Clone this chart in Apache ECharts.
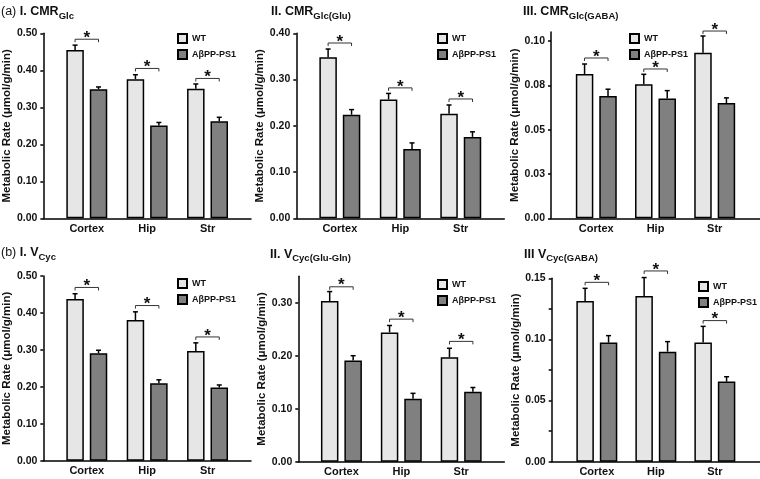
<!DOCTYPE html>
<html><head><meta charset="utf-8">
<script src="https://cdn.jsdelivr.net/npm/echarts@6/dist/echarts.min.js"></script>
<style>html,body{margin:0;padding:0;background:#fff}#c{width:760px;height:479px}</style>
</head><body><div id="c"></div>
<script>
// ---------- DATA ----------
const categories = ['Cortex', 'Hip', 'Str'];
const groups = ['WT', 'AβPP-PS1'];
const yAxisName = 'Metabolic Rate (μmol/g/min)';

// (a) I. CMR_Glc
const aI_title = '{n|(a) }{b|I. CMR}{s|Glc}';
const aI_WT = [0.455, 0.376, 0.350];
const aI_WT_err = [0.013, 0.012, 0.013];
const aI_TG = [0.349, 0.251, 0.262];
const aI_TG_err = [0.006, 0.008, 0.011];
const aI_sig = [0.484, 0.405, 0.378];
const aI_max = 0.5;
const aI_labelTicks = [0, 0.1, 0.2, 0.3, 0.4, 0.5];
const aI_tickLabels = ['0.00', '0.10', '0.20', '0.30', '0.40', '0.50'];
const aI_ticks = [0, 0.1, 0.2, 0.3, 0.4, 0.5];

// (a) II. CMR_Glc(Glu)
const aII_title = '{b|II. CMR}{s|Glc(Glu)}';
const aII_WT = [0.348, 0.257, 0.226];
const aII_WT_err = [0.018, 0.013, 0.019];
const aII_TG = [0.224, 0.150, 0.176];
const aII_TG_err = [0.011, 0.013, 0.011];
const aII_sig = [0.379, 0.282, 0.258];
const aII_max = 0.4;
const aII_labelTicks = [0, 0.1, 0.2, 0.3, 0.4];
const aII_tickLabels = ['0.00', '0.10', '0.20', '0.30', '0.40'];
const aII_ticks = [0, 0.1, 0.2, 0.3, 0.4];

// (a) III. CMR_Glc(GABA)
const aIII_title = '{b|III. CMR}{s|Glc(GABA)}';
const aIII_WT = [0.0814, 0.0756, 0.0934];
const aIII_WT_err = [0.0056, 0.0056, 0.0094];
const aIII_TG = [0.0690, 0.0675, 0.0650];
const aIII_TG_err = [0.0038, 0.0045, 0.0029];
const aIII_sig = [0.0904, 0.0842, 0.1056];
const aIII_max = 0.105;
const aIII_labelTicks = [0, 0.025, 0.05, 0.075, 0.1];
const aIII_tickLabels = ['0.00', '0.03', '0.05', '0.08', '0.10'];
const aIII_ticks = [0, 0.025, 0.05, 0.075, 0.1];

// (b) I. V_Cyc
const bI_title = '{n|(b) }{b|I. V}{s|Cyc}';
const bI_WT = [0.438, 0.381, 0.297];
const bI_WT_err = [0.014, 0.022, 0.022];
const bI_TG = [0.291, 0.210, 0.198];
const bI_TG_err = [0.008, 0.009, 0.007];
const bI_sig = [0.469, 0.420, 0.335];
const bI_max = 0.5;
const bI_labelTicks = [0, 0.1, 0.2, 0.3, 0.4, 0.5];
const bI_tickLabels = ['0.00', '0.10', '0.20', '0.30', '0.40', '0.50'];
const bI_ticks = [0, 0.1, 0.2, 0.3, 0.4, 0.5];

// (b) II. V_Cyc(Glu-Gln)
const bII_title = '{b|II. V}{s|Cyc(Glu-Gln)}';
const bII_WT = [0.303, 0.244, 0.197];
const bII_WT_err = [0.018, 0.013, 0.017];
const bII_TG = [0.191, 0.119, 0.132];
const bII_TG_err = [0.009, 0.010, 0.008];
const bII_sig = [0.330, 0.269, 0.227];
const bII_max = 0.35;
const bII_labelTicks = [0, 0.1, 0.2, 0.3];
const bII_tickLabels = ['0.00', '0.10', '0.20', '0.30'];
const bII_ticks = [0, 0.1, 0.2, 0.3];

// (b) III V_Cyc(GABA)
const bIII_title = '{b|III V}{s|Cyc(GABA)}';
const bIII_WT = [0.1315, 0.1356, 0.0974];
const bIII_WT_err = [0.0103, 0.0150, 0.0133];
const bIII_TG = [0.0974, 0.0900, 0.0655];
const bIII_TG_err = [0.0057, 0.0082, 0.0040];
const bIII_sig = [0.1467, 0.1560, 0.1154];
const bIII_max = 0.15;
const bIII_labelTicks = [0, 0.05, 0.1, 0.15];
const bIII_tickLabels = ['0.00', '0.05', '0.10', '0.15'];
const bIII_ticks = [0, 0.025, 0.05, 0.075, 0.1, 0.125, 0.15];

// ---------- LAYOUT / STYLE ----------
const F = '"Liberation Sans", Arial, sans-serif';
const TXT = '#111';
const WT_COLOR = '#e6e6e6';
const TG_COLOR = '#808080';
const BAR_W = 17.5;
const BAR_GAP = 0.34;
const HALF = (BAR_W * (1 + BAR_GAP)) / 2;

const panels = [
  { title: aI_title, wt: aI_WT, wtE: aI_WT_err, tg: aI_TG, tgE: aI_TG_err, sig: aI_sig, max: aI_max, lt: aI_labelTicks, tl: aI_tickLabels, tk: aI_ticks,
    grid: { left: 41, top: 33.3, width: 210, height: 185 }, pad: 0.72, tPos: [1, 3], lPos: [177, 33] },
  { title: aII_title, wt: aII_WT, wtE: aII_WT_err, tg: aII_TG, tgE: aII_TG_err, sig: aII_sig, max: aII_max, lt: aII_labelTicks, tl: aII_tickLabels, tk: aII_ticks,
    grid: { left: 296.3, top: 33.3, width: 208, height: 185 }, pad: 0.72, tPos: [271, 3], lPos: [437, 33] },
  { title: aIII_title, wt: aIII_WT, wtE: aIII_WT_err, tg: aIII_TG, tgE: aIII_TG_err, sig: aIII_sig, max: aIII_max, lt: aIII_labelTicks, tl: aIII_tickLabels, tk: aIII_ticks,
    grid: { left: 551, top: 32.1, width: 209, height: 186.2 }, pad: 0.765, tPos: [523, 3], lPos: [629, 33] },
  { title: bI_title, wt: bI_WT, wtE: bI_WT_err, tg: bI_TG, tgE: bI_TG_err, sig: bI_sig, max: bI_max, lt: bI_labelTicks, tl: bI_tickLabels, tk: bI_ticks,
    grid: { left: 41, top: 276, width: 210, height: 184.7 }, pad: 0.72, tPos: [1, 244], lPos: [177, 278] },
  { title: bII_title, wt: bII_WT, wtE: bII_WT_err, tg: bII_TG, tgE: bII_TG_err, sig: bII_sig, max: bII_max, lt: bII_labelTicks, tl: bII_tickLabels, tk: bII_ticks,
    grid: { left: 298.3, top: 276.2, width: 206, height: 185.5 }, pad: 0.72, tPos: [270, 245.5], lPos: [437, 279] },
  { title: bIII_title, wt: bIII_WT, wtE: bIII_WT_err, tg: bIII_TG, tgE: bIII_TG_err, sig: bIII_sig, max: bIII_max, lt: bIII_labelTicks, tl: bIII_tickLabels, tk: bIII_ticks,
    grid: { left: 551.7, top: 278.3, width: 208.3, height: 183.4 }, pad: 0.765, tPos: [524, 245.5], lPos: [698, 281] }
];

function errRender(offset) {
  return function (params, api) {
    const x = api.value(0), v = api.value(1), e = api.value(2);
    const b = api.coord([x, v]);
    const t = api.coord([x, v + e]);
    const cx = b[0] + offset;
    return { type: 'group', children: [
      { type: 'line', shape: { x1: cx, y1: b[1], x2: cx, y2: t[1] }, style: { stroke: '#000', lineWidth: 1.5 } },
      { type: 'line', shape: { x1: cx - 2.5, y1: t[1], x2: cx + 2.5, y2: t[1] }, style: { stroke: '#000', lineWidth: 1.5 } }
    ] };
  };
}
function sigRender(params, api) {
  const x = api.value(0), lv = api.value(1);
  const p = api.coord([x, lv]);
  const l = p[0] - HALF, r = p[0] + HALF, y = p[1];
  return { type: 'group', children: [
    { type: 'polyline', shape: { points: [[l, y + 3], [l, y], [r, y], [r, y + 3]] }, style: { stroke: '#333', lineWidth: 1, fill: null } },
    { type: 'text', x: p[0], y: y - 1, style: { text: '*', fill: TXT, font: 'bold 17px ' + F, align: 'center', verticalAlign: 'middle' } }
  ] };
}

const option = { animation: false, backgroundColor: '#fff', title: [], legend: [], grid: [], xAxis: [], yAxis: [], series: [] };

panels.forEach((p, i) => {
  option.grid.push(p.grid);
  option.title.push({ left: p.tPos[0], top: p.tPos[1], padding: 0, text: p.title,
    textStyle: { rich: {
      n: { fontFamily: F, fontSize: 12.5, fontWeight: 'normal', color: TXT, lineHeight: 18 },
      b: { fontFamily: F, fontSize: 12.5, fontWeight: 'bold', color: TXT, lineHeight: 18 },
      s: { fontFamily: F, fontSize: 9.5, fontWeight: 'bold', color: TXT, lineHeight: 10, verticalAlign: 'bottom' }
    } } });
  option.legend.push({ orient: 'vertical', left: p.lPos[0], top: p.lPos[1], padding: 0, itemWidth: 9, itemHeight: 9, itemGap: 5,
    icon: 'rect', selectedMode: false, data: groups,
    textStyle: { fontFamily: F, fontWeight: 'bold', fontSize: 9, color: TXT, lineHeight: 9 } });
  option.xAxis.push({ gridIndex: i, type: 'value', min: -p.pad, max: categories.length - 1 + p.pad,
    axisLine: { onZero: false, lineStyle: { color: '#000', width: 1.5 } }, axisTick: { show: false }, splitLine: { show: false },
    axisLabel: { customValues: categories.map((c, k) => k), formatter: v => categories[Math.round(v)], margin: 5,
      fontFamily: F, fontWeight: 'bold', fontSize: 11, color: TXT } });
  option.yAxis.push({ gridIndex: i, type: 'value', min: 0, max: p.max,
    name: yAxisName, nameLocation: 'middle', nameRotate: 90, nameGap: 30,
    nameTextStyle: { fontFamily: F, fontWeight: 'bold', fontSize: 11.5, color: TXT },
    axisLine: { onZero: false, lineStyle: { color: '#000', width: 1.5 } },
    axisTick: { customValues: p.tk, length: 3, lineStyle: { color: '#000', width: 1.5 } },
    splitLine: { show: false },
    axisLabel: { customValues: p.lt, formatter: v => { const k = p.lt.findIndex(t => Math.abs(t - v) < 1e-9); return k >= 0 ? p.tl[k] : ''; },
      margin: 6, fontFamily: F, fontWeight: 'bold', fontSize: 10.5, color: TXT } });
  option.series.push(
    { type: 'bar', name: groups[0], xAxisIndex: i, yAxisIndex: i, barWidth: BAR_W, barGap: (BAR_GAP * 100) + '%',
      data: p.wt.map((v, k) => [k, v]), itemStyle: { color: WT_COLOR, borderColor: '#000', borderWidth: 1.5 } },
    { type: 'bar', name: groups[1], xAxisIndex: i, yAxisIndex: i, barWidth: BAR_W, barGap: (BAR_GAP * 100) + '%',
      data: p.tg.map((v, k) => [k, v]), itemStyle: { color: TG_COLOR, borderColor: '#000', borderWidth: 1.5 } },
    { type: 'custom', xAxisIndex: i, yAxisIndex: i, z: 5, renderItem: errRender(-HALF), encode: { x: 0, y: 1 },
      data: p.wt.map((v, k) => [k, v, p.wtE[k]]) },
    { type: 'custom', xAxisIndex: i, yAxisIndex: i, z: 5, renderItem: errRender(HALF), encode: { x: 0, y: 1 },
      data: p.tg.map((v, k) => [k, v, p.tgE[k]]) },
    { type: 'custom', xAxisIndex: i, yAxisIndex: i, z: 5, renderItem: sigRender, encode: { x: 0, y: 1 }, clip: false,
      data: p.sig.map((v, k) => [k, v]) }
  );
});

const chart = echarts.init(document.getElementById('c'), null, { renderer: 'canvas' });
chart.setOption(option);
</script>
</body></html>
